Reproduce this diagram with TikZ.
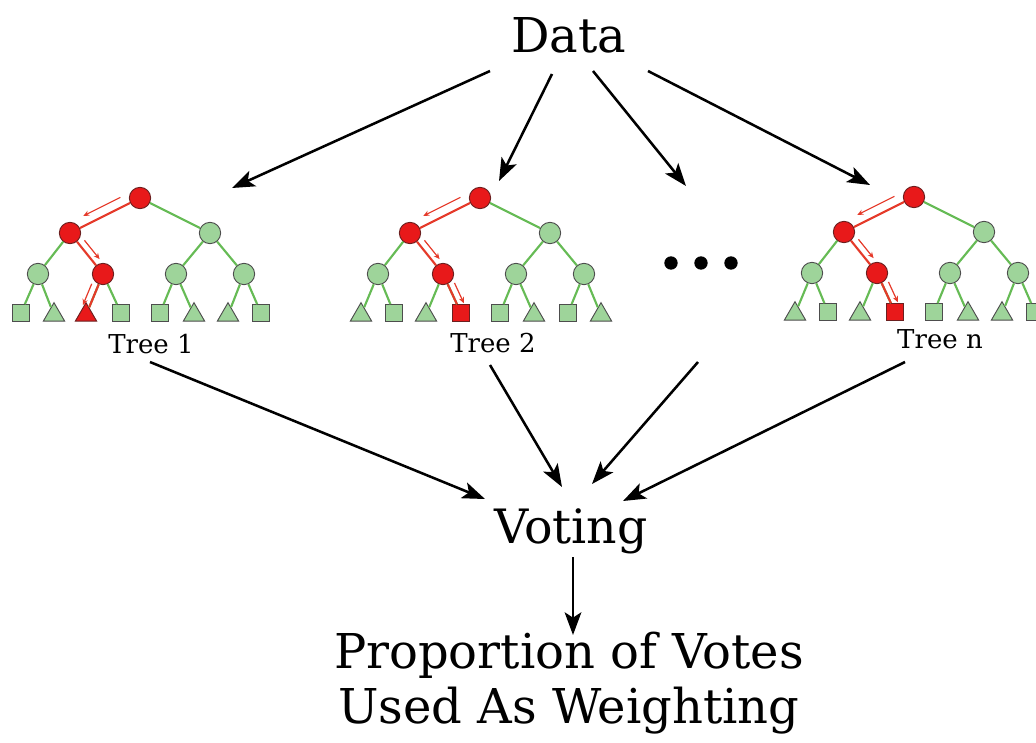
\documentclass[tikz,border=0pt]{standalone}
\usepackage{fontspec}
\setmainfont{DejaVu Serif}
\usetikzlibrary{shapes.geometric,arrows.meta,calc}
\definecolor{gfill}{HTML}{9ED49A}
\definecolor{gline}{HTML}{66BB55}
\definecolor{rfill}{HTML}{E8191A}
\definecolor{rline}{HTML}{E53A2A}
\definecolor{nout}{HTML}{4D4D4D}
\definecolor{rout}{HTML}{6B2020}
\tikzset{
  gnode/.style={circle,draw=nout,fill=gfill,line width=0.7pt,minimum size=16pt,inner sep=0pt},
  rnode/.style={gnode,draw=rout,fill=rfill},
  gsq/.style={rectangle,draw=nout,fill=gfill,line width=0.7pt,minimum size=12.5pt,inner sep=0pt},
  rsq/.style={gsq,fill=rfill,draw=rout},
  gtri/.style={regular polygon,regular polygon sides=3,draw=nout,fill=gfill,line width=0.7pt,minimum size=18.5pt,inner sep=0pt,yshift=-1.5pt},
  rtri/.style={gtri,fill=rfill,draw=rout},
  gedge/.style={draw=gline,line width=1.6pt},
  redge/.style={draw=rline,line width=1.6pt},
  rarrow/.style={draw=rline,line width=0.9pt,-{Stealth[length=4.5pt,width=4pt]}},
  conn/.style={draw=black,line width=1.9pt,-{Stealth[length=17pt,width=12.5pt,inset=4pt]}},
  bigtext/.style={font=\fontsize{36pt}{42pt}\selectfont,inner sep=0pt,anchor=base},
  treelab/.style={font=\fontsize{19.5pt}{23pt}\selectfont,inner sep=0pt,anchor=base},
  dotnode/.style={circle,fill=black,minimum size=10pt,inner sep=0pt}
}
% #1 prefix, #2 x, #3 y, #4 leaf styles, #5 red leaf index, #6 leaf arrow angle
\newcommand\drawtree[6]{%
  \begin{scope}[shift={(#2,#3)}]
    \node[rnode] (#1r) at (0,0) {};
    \node[rnode] (#1a) at (-70,35) {};
    \node[gnode] (#1b) at (70,35) {};
    \node[gnode] (#1c) at (-102,76) {};
    \node[rnode] (#1d) at (-37,76) {};
    \node[gnode] (#1e) at (36,76) {};
    \node[gnode] (#1f) at (104,76) {};
    \foreach \st [count=\i] in {#4} {
      \pgfmathsetmacro\lx{{-119,-86,-54,-19,20,54,88,121}[\i-1]}
      \node[\st] (#1l\i) at (\lx,115) {};
    }
  \end{scope}
  \foreach \p/\c in {r/b,a/c,b/e,b/f} \draw[gedge] (#1\p) -- (#1\c);
  \foreach \p/\c in {c/1,c/2,d/3,d/4,e/5,e/6,f/7,f/8} \draw[gedge] (#1\p) -- (#1l\c);
  \draw[redge] (#1r) -- (#1a);
  \draw[redge] (#1a) -- (#1d);
  \draw[redge] (#1d) -- (#1l#5);
  \draw[rarrow] ($(#1r)!0.22!(#1a)!7pt!-90:(#1a)$) -- ($(#1r)!0.75!(#1a)!7pt!-90:(#1a)$);
  \draw[rarrow] ($(#1a)!0.28!(#1d)!5pt!90:(#1d)$) -- ($(#1a)!0.74!(#1d)!5pt!90:(#1d)$);
  \draw[rarrow] ($(#1d)!0.3!(#1l#5)!5pt!#6:(#1l#5)$) -- ($(#1d)!0.82!(#1l#5)!5pt!#6:(#1l#5)$);
}
\begin{document}
\begin{tikzpicture}[x=0.75pt,y=-0.75pt]
\useasboundingbox (0,0) rectangle (1036,743);

\node[bigtext] (data) at (569,52) {Data};
\node[bigtext,font=\fontsize{35.5pt}{42pt}\selectfont] (vote) at (571,543) {Voting};
\node[bigtext] (prop1) at (569,668) {Proportion of Votes};
\node[bigtext] (prop2) at (569,723) {Used As Weighting};

\drawtree{t}{140}{198}{gsq,gtri,rtri,gsq,gsq,gtri,gtri,gsq}{3}{-90}
\drawtree{u}{480}{198}{gtri,gsq,gtri,rsq,gsq,gtri,gsq,gtri}{4}{90}
\drawtree{w}{914}{197}{gtri,gsq,gtri,rsq,gsq,gtri,gtri,gsq}{4}{90}

\node[treelab] (lab1) at (151,353) {Tree 1};
\node[treelab] (lab2) at (493,352) {Tree 2};
\node[treelab] (labn) at (940,348) {Tree n};

\node[dotnode] (dot1) at (671,263) {};
\node[dotnode] (dot2) at (701,263) {};
\node[dotnode] (dot3) at (731,263) {};

\coordinate (d1s) at (490,71);  \coordinate (d1e) at (232,188);
\coordinate (d2s) at (552,74);  \coordinate (d2e) at (499,181);
\coordinate (d3s) at (593,71);  \coordinate (d3e) at (686,186);
\coordinate (d4s) at (648,71);  \coordinate (d4e) at (870,185);
\draw[conn] (d1s) -- (d1e);
\draw[conn] (d2s) -- (d2e);
\draw[conn] (d3s) -- (d3e);
\draw[conn] (d4s) -- (d4e);

\coordinate (v1s) at (150,362); \coordinate (v1e) at (485,499);
\coordinate (v2s) at (490,365); \coordinate (v2e) at (562,487);
\coordinate (v3s) at (698,362); \coordinate (v3e) at (592,484);
\coordinate (v4s) at (905,362); \coordinate (v4e) at (623,501);
\draw[conn] (v1s) -- (v1e);
\draw[conn] (v2s) -- (v2e);
\draw[conn] (v3s) -- (v3e);
\draw[conn] (v4s) -- (v4e);

\coordinate (ps) at (573,557); \coordinate (pe) at (573,635);
\draw[conn] (ps) -- (pe);
\end{tikzpicture}
\end{document}
